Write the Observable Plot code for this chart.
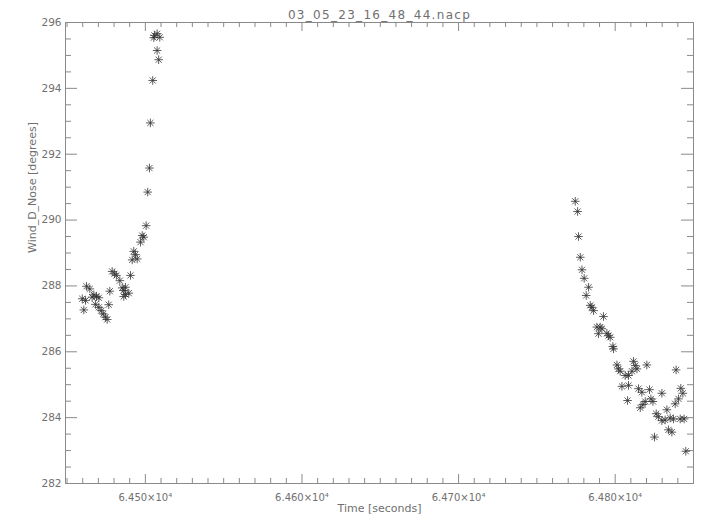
<!DOCTYPE html>
<html>
<head>
<meta charset="utf-8">
<script src="https://cdn.jsdelivr.net/npm/d3@7"></script>
<script src="https://cdn.jsdelivr.net/npm/@observablehq/plot@0.6"></script>
<style>
  html, body { margin: 0; padding: 0; background: #fff; }
</style>
</head>
<body>
<div id="chart"></div>
<script>
const chartTitle = "03_05_23_16_48_44.nacp";
const xLabel = "Time [seconds]";
const yLabel = "Wind_D_Nose [degrees]";

const timeSec = [
  64459.7, 64460.7, 64461.8, 64462.4, 64464.5, 64466.0, 64467.1, 64468.1, 64468.8, 64470.3,
  64470.3, 64471.8, 64473.1, 64474.5, 64475.6, 64476.6, 64477.3, 64478.8, 64480.3, 64481.5,
  64483.7, 64485.2, 64487.3, 64486.2, 64487.3, 64489.4, 64486.2, 64490.5, 64491.6, 64492.6,
  64493.7, 64494.8, 64496.9, 64498.0, 64499.0, 64500.5, 64501.5, 64502.6, 64503.2, 64504.7,
  64505.4, 64505.8, 64507.5, 64509.2, 64507.5, 64508.5,
  64774.5, 64776.0, 64776.6, 64777.7, 64778.8, 64780.2, 64783.0, 64781.5, 64784.1, 64785.1,
  64786.2, 64792.5, 64788.3, 64790.4, 64791.5, 64789.3, 64794.7, 64795.7, 64796.8, 64798.5,
  64798.9, 64801.1, 64802.1, 64803.2, 64806.4, 64808.5, 64810.7, 64811.7, 64812.8, 64813.9,
  64820.2, 64838.9, 64804.3, 64808.5, 64814.9, 64817.0, 64821.9, 64807.9, 64829.8, 64819.2,
  64817.7, 64816.0, 64822.8, 64824.1, 64841.9, 64843.2, 64840.4, 64838.3, 64833.0, 64826.2,
  64827.6, 64829.8, 64831.9, 64835.1, 64837.2, 64841.5, 64844.0, 64834.0, 64836.2, 64825.1,
  64845.1
];
const windDir = [
  287.61, 287.27, 287.56, 287.99, 287.91, 287.66, 287.73, 287.44, 287.68, 287.64,
  287.35, 287.25, 287.15, 287.05, 286.98, 287.43, 287.84, 288.44, 288.37, 288.32,
  288.16, 287.94, 287.96, 287.86, 287.74, 287.78, 287.68, 288.32, 288.79, 289.05,
  288.95, 288.82, 289.33, 289.53, 289.48, 289.83, 290.85, 291.58, 292.95, 294.24,
  295.54, 295.61, 295.66, 295.55, 295.15, 294.87,
  290.57, 290.26, 289.50, 288.87, 288.49, 288.23, 287.96, 287.71, 287.41, 287.35,
  287.25, 287.07, 286.75, 286.75, 286.70, 286.55, 286.56, 286.49, 286.44, 286.16,
  286.09, 285.60, 285.48, 285.41, 285.28, 285.28, 285.41, 285.71, 285.58, 285.48,
  285.60, 285.45, 284.95, 284.98, 284.88, 284.77, 284.85, 284.52, 284.74, 284.49,
  284.40, 284.30, 284.57, 284.49, 284.89, 284.74, 284.57, 284.42, 284.24, 284.12,
  284.03, 283.91, 283.93, 283.99, 283.96, 283.96, 283.96, 283.63, 283.56, 283.41,
  282.98
];

const xDomain = [64449, 64850];
const yDomain = [282, 296];
const xMajorTicks = [64500, 64600, 64700, 64800];
const yMajorTicks = [282, 284, 286, 288, 290, 292, 294, 296];
const xMinorTicks = d3.range(64450, 64851, 10).filter(v => !xMajorTicks.includes(v));
const yMinorTicks = d3.range(282, 296.01, 0.5).filter(v => !yMajorTicks.includes(v));

const points = timeSec.map((t, i) => ({t, w: windDir[i]}));

// IDL-style asterisk (psym=2): + and x combined
const idlAsterisk = {
  draw(ctx, size) {
    const r = Math.sqrt(size / Math.PI);
    const d = r * Math.SQRT1_2;
    ctx.moveTo(-r, 0); ctx.lineTo(r, 0);
    ctx.moveTo(0, -r); ctx.lineTo(0, r);
    ctx.moveTo(-d, -d); ctx.lineTo(d, d);
    ctx.moveTo(-d, d); ctx.lineTo(d, -d);
  }
};

const W = 713, H = 525;
const mL = 65, mR = 20, mT = 22, mB = 42;
const innerW = W - mL - mR, innerH = H - mT - mB;
const axisColor = "#8a8a8a";
const textColor = "#707070";
const xMaj = 9, xMin = 5, yMaj = 12, yMin = 6;

const chart = Plot.plot({
  width: W,
  height: H,
  marginLeft: mL,
  marginRight: mR,
  marginTop: mT,
  marginBottom: mB,
  style: {fontFamily: "DejaVu Sans, sans-serif", fontSize: "10px", color: textColor, background: "#fff"},
  x: {domain: xDomain, axis: null},
  y: {domain: yDomain, axis: null},
  marks: [
    // tick marks, pointing inward on all four sides
    Plot.ruleX(xMajorTicks, {x: d => d, insetTop: innerH - xMaj, stroke: axisColor}),
    Plot.ruleX(xMinorTicks, {x: d => d, insetTop: innerH - xMin, stroke: axisColor}),
    Plot.ruleX(xMajorTicks, {x: d => d, insetBottom: innerH - xMaj, stroke: axisColor}),
    Plot.ruleX(xMinorTicks, {x: d => d, insetBottom: innerH - xMin, stroke: axisColor}),
    Plot.ruleY(yMajorTicks, {y: d => d, insetRight: innerW - yMaj, stroke: axisColor}),
    Plot.ruleY(yMinorTicks, {y: d => d, insetRight: innerW - yMin, stroke: axisColor}),
    Plot.ruleY(yMajorTicks, {y: d => d, insetLeft: innerW - yMaj, stroke: axisColor}),
    Plot.ruleY(yMinorTicks, {y: d => d, insetLeft: innerW - yMin, stroke: axisColor}),
    Plot.frame({stroke: axisColor}),
    // tick labels
    Plot.axisX(xMajorTicks, {
      tickSize: 0, tickPadding: 10, label: null, fontSize: 10,
      tickFormat: d => (d / 1e4).toFixed(3) + "×10⁴"
    }),
    Plot.axisY(yMajorTicks, {
      tickSize: 0, tickPadding: 4, label: null, fontSize: 10.5,
      tickFormat: d => String(d)
    }),
    // axis titles and chart title
    Plot.text([xLabel], {text: d => d, frameAnchor: "bottom", dy: 28, fontSize: 11, fill: textColor}),
    Plot.text([yLabel], {text: d => d, frameAnchor: "left", dx: -33, rotate: -90, fontSize: 11, fill: textColor}),
    Plot.text([chartTitle], {text: d => d, frameAnchor: "top", dy: -12, fontSize: 12, fill: textColor, className: "main-title"}),
    // data
    Plot.dot(points, {x: "t", y: "w", symbol: idlAsterisk, r: 4.3, stroke: "#333", strokeWidth: 0.8, fill: "none"})
  ]
});
d3.select(chart).selectAll(".main-title text").style("letter-spacing", "1.3px");
document.getElementById("chart").appendChild(chart);
</script>
</body>
</html>
